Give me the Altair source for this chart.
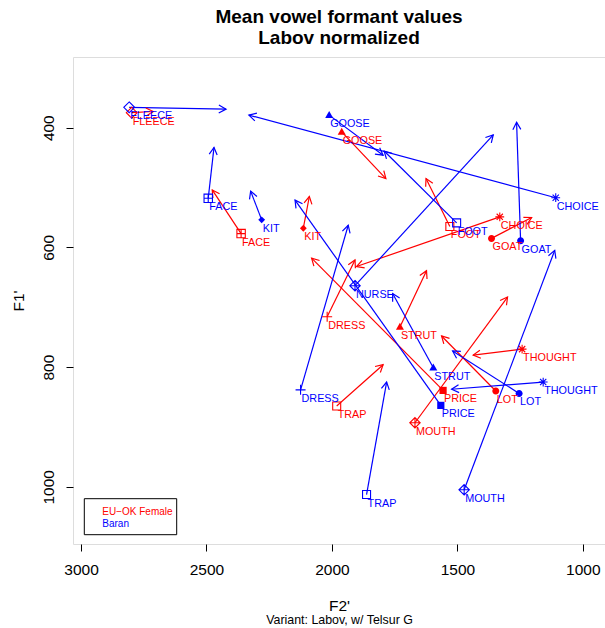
import math
import altair as alt
import pandas as pd

# ---------------- data ----------------
speakers = ["EU\u2212OK Female", "Baran"]

red_vowels = ["FLEECE", "FACE", "KIT", "GOOSE", "FOOT", "CHOICE", "GOAT",
              "DRESS", "STRUT", "PRICE", "THOUGHT", "LOT", "MOUTH", "TRAP"]
red_f2 = [2798, 2362, 2114, 1961, 1530, 1331, 1364, 2019, 1729, 1557, 1242, 1347, 1669, 1981]
red_f1 = [375, 577, 568, 407, 565, 549, 585, 716, 733, 839, 770, 840, 893, 865]
red_f2_glide = [2712, 2477, 2090, 1785, 1625, 1902, 1204, 1908, 1623, 2081, 1437, 1563, 1300, 1796]
red_f1_glide = [373, 504, 515, 485, 485, 632, 550, 621, 639, 618, 780, 748, 683, 796]

blue_vowels = ["FLEECE", "FACE", "KIT", "GOOSE", "FOOT", "CHOICE", "GOAT", "NURSE",
               "DRESS", "STRUT", "PRICE", "THOUGHT", "LOT", "MOUTH", "TRAP"]
blue_f2 = [2808, 2493, 2280, 2011, 1503, 1108, 1248, 1908, 2125, 1596, 1566, 1158, 1254, 1473, 1862]
blue_f1 = [366, 518, 554, 379, 559, 517, 589, 664, 838, 801, 864, 825, 844, 1005, 1013]
blue_f2_glide = [2422, 2470, 2324, 1796, 1792, 2331, 1264, 1357, 1935, 1758, 2147, 1523, 1519, 1112, 1782]
blue_f1_glide = [369, 433, 506, 446, 439, 379, 391, 412, 563, 677, 521, 837, 773, 605, 825]

x_ticks = [3000, 2500, 2000, 1500, 1000]
y_ticks = [400, 600, 800, 1000]

title_lines = ["Mean vowel formant values", "Labov normalized"]
subtitle = "Variant: Labov, w/ Telsur G"

# ---------------- styles ----------------
FONT = "Liberation Sans"
COLORS = ["#FF0000", "#0000FF"]

SQ_OPEN = "M-1,-1H1V1H-1Z"
SQ_PLUS = "M-1.05,-1.05H1.05V1.05H-1.05Z M0,-1.05V1.05 M-1.05,0H1.05"
SQ_FILL = "M-0.9,-0.9H0.9V0.9H-0.9Z"
DIA_OPEN = "M0,-1.35L1.35,0L0,1.35L-1.35,0Z"
DIA_PLUS = "M0,-1.3L1.3,0L0,1.3L-1.3,0Z M0,-1.3V1.3 M-1.3,0H1.3"
DIA_FILL = "M0,-0.85L0.85,0L0,0.85L-0.85,0Z"
TRI_FILL = "M0,-1.05L1,0.7L-1,0.7Z"
CIRC_FILL = "M0.875,0A0.875,0.875,0,1,1,-0.875,0A0.875,0.875,0,1,1,0.875,0Z"
ASTER = "M-1.1,0H1.1M0,-1.1V1.1M-0.78,-0.78L0.78,0.78M-0.78,0.78L0.78,-0.78"
PLUS = "M-1.25,0H1.25M0,-1.25V1.25"
ARROW = "M-1,-0.55L0,0L-1,0.55"

VOWEL_STYLE = {
    "FLEECE": (DIA_OPEN, False), "FACE": (SQ_PLUS, False), "KIT": (DIA_FILL, True),
    "GOOSE": (TRI_FILL, True), "FOOT": (SQ_OPEN, False), "CHOICE": (ASTER, False),
    "GOAT": (CIRC_FILL, True), "NURSE": (DIA_PLUS, False), "DRESS": (PLUS, False),
    "STRUT": (TRI_FILL, True), "PRICE": (SQ_FILL, True), "THOUGHT": (ASTER, False),
    "LOT": (CIRC_FILL, True), "MOUTH": (DIA_PLUS, False), "TRAP": (SQ_OPEN, False),
}

# ---------------- layout ----------------
W, H = 532, 487
PAD_L, PAD_T, PAD_B = 73, 57, 84
X_MAX = 3032.0
X_MIN = X_MAX - W / 0.2509
Y_MIN = 281.9
Y_MAX = Y_MIN + H / 0.5985
kx = W / (X_MAX - X_MIN)
ky = H / (Y_MAX - Y_MIN)

rows = []
for spk, vs, a, b, c, d in [
    (speakers[0], red_vowels, red_f2, red_f1, red_f2_glide, red_f1_glide),
    (speakers[1], blue_vowels, blue_f2, blue_f1, blue_f2_glide, blue_f1_glide),
]:
    for v, f2, f1, f2g, f1g in zip(vs, a, b, c, d):
        dx = -(f2g - f2) * kx
        dy = (f1g - f1) * ky
        ang = math.degrees(math.atan2(dy, dx)) % 360
        path, filled = VOWEL_STYLE[v]
        rows.append(dict(speaker=spk, vowel=v, f2=f2, f1=f1, f2g=f2g, f1g=f1g,
                         angle=ang, path=path, filled=filled))
df = pd.DataFrame(rows)

color = alt.Color("speaker:N", scale=alt.Scale(domain=speakers, range=COLORS), legend=None)

xscale = alt.Scale(domain=[X_MIN, X_MAX], reverse=True, nice=False, zero=False)
yscale = alt.Scale(domain=[Y_MIN, Y_MAX], reverse=True, nice=False, zero=False)

xaxis = alt.Axis(values=x_ticks, format="d", title="F2'", domain=False, grid=False,
                 tickSize=7, tickColor="black", tickWidth=1,
                 labelFont=FONT, labelFontSize=15.5, labelColor="black", labelPadding=11,
                 labelFlush=False, labelOverlap=False,
                 titleFont=FONT, titleFontSize=15.5, titleFontWeight="normal", titleColor="black",
                 titleY=66.6, titleBaseline="alphabetic")
yaxis = alt.Axis(values=y_ticks, format="d", title="F1'", domain=False, grid=False,
                 tickSize=7, tickColor="black", tickWidth=1,
                 labelFont=FONT, labelFontSize=15.5, labelColor="black", labelPadding=13,
                 labelAngle=270, labelAlign="center", labelBaseline="alphabetic",
                 labelFlush=False, labelOverlap=False,
                 titleFont=FONT, titleFontSize=15.5, titleFontWeight="normal", titleColor="black",
                 titleAngle=270, titleX=-50, titleY=H / 2, titleAlign="center",
                 titleBaseline="alphabetic")

base = alt.Chart(df)

rules = base.mark_rule(strokeWidth=1.2).encode(
    x=alt.X("f2:Q", scale=xscale, axis=xaxis),
    y=alt.Y("f1:Q", scale=yscale, axis=yaxis),
    x2="f2g:Q", y2="f1g:Q", color=color)

heads = base.mark_point(filled=False, shape=ARROW, size=210, strokeWidth=1.2, opacity=1).encode(
    x="f2g:Q", y="f1g:Q", angle=alt.Angle("angle:Q", scale=None), color=color)

open_pts = base.transform_filter("!datum.filled").mark_point(
    filled=False, size=64, strokeWidth=1.1, opacity=1).encode(
    x="f2:Q", y="f1:Q", shape=alt.Shape("path:N", scale=None, legend=None), color=color)

fill_pts = base.transform_filter("datum.filled").mark_point(
    filled=True, size=64, opacity=1).encode(
    x="f2:Q", y="f1:Q", shape=alt.Shape("path:N", scale=None, legend=None), color=color)

labels = base.mark_text(align="left", baseline="middle", dx=1, dy=9,
                        font=FONT, fontSize=10.8).encode(
    x="f2:Q", y="f1:Q", text="vowel:N", color=color)

one = pd.DataFrame({"k": [0]})
legend_box = alt.Chart(one).mark_rect(fill="white", stroke="black", strokeWidth=1).encode(
    x=alt.value(11.3), x2=alt.value(103.7), y=alt.value(441.7), y2=alt.value(477.7))
legend_t1 = alt.Chart(pd.DataFrame({"t": [speakers[0]]})).mark_text(
    align="left", baseline="middle", font=FONT, fontSize=10, color=COLORS[0]).encode(
    x=alt.value(29.3), y=alt.value(454.6), text="t:N")
legend_t2 = alt.Chart(pd.DataFrame({"t": [speakers[1]]})).mark_text(
    align="left", baseline="middle", font=FONT, fontSize=10, color=COLORS[1]).encode(
    x=alt.value(29.3), y=alt.value(466.6), text="t:N")

sub = alt.Chart(pd.DataFrame({"t": [subtitle]})).mark_text(
    align="center", baseline="alphabetic", font=FONT, fontSize=12.4, color="black").encode(
    x=alt.value(533 / 2), y=alt.value(567.1), text="t:N")

chart = alt.layer(rules, heads, open_pts, fill_pts, labels,
                  legend_box, legend_t1, legend_t2, sub).properties(
    width=W, height=H,
    autosize=alt.AutoSizeParams(type="none"),
    padding={"left": PAD_L, "top": PAD_T, "right": 0, "bottom": PAD_B},
    title=alt.TitleParams(title_lines, font=FONT, fontSize=19, fontWeight="bold",
                          color="black", anchor="middle", frame="group",
                          baseline="bottom", offset=10, dy=19.5, lineHeight=21),
).configure_view(stroke="black", strokeWidth=1).configure(background="white")

chart.save("out.html", embed_options={"renderer": "svg", "actions": False})
